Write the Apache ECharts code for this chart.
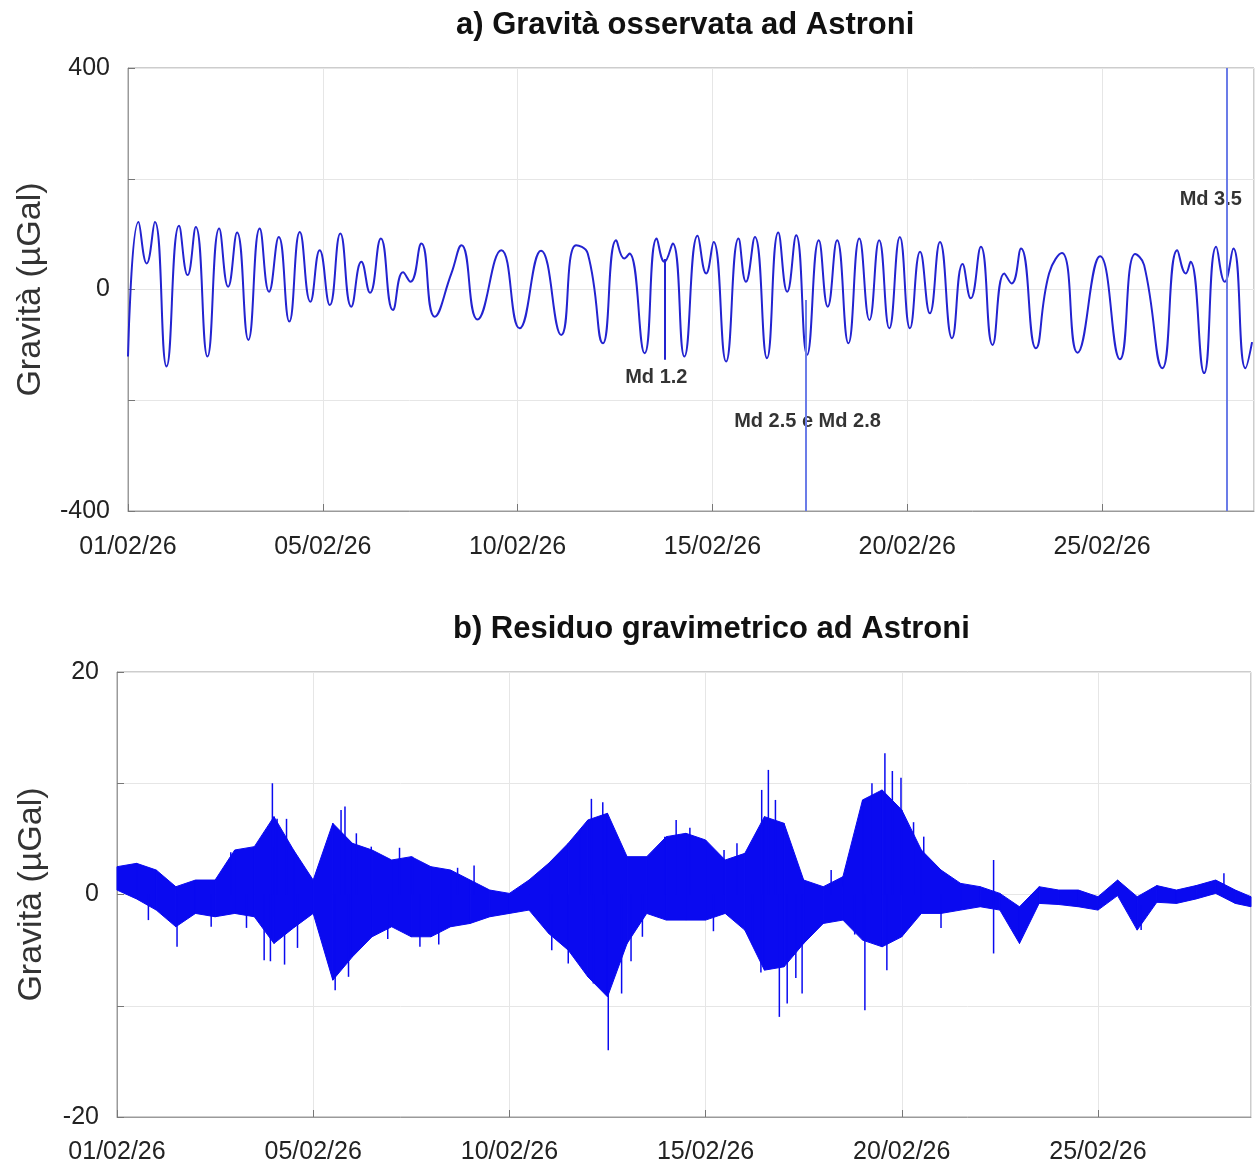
<!DOCTYPE html>
<html>
<head>
<meta charset="utf-8">
<title>Gravità Astroni</title>
<script src="https://cdn.jsdelivr.net/npm/echarts@6/dist/echarts.min.js"></script>
<style>
  body { margin: 0; background: #fff; }
  #chart { width: 1257px; height: 1169px; }
</style>
</head>
<body>
<div id="chart"></div>
<script>
// etichette asse tempo (giorni dall'inizio, una ogni 5)
const tickLabels = ['01/02/26', '05/02/26', '10/02/26', '15/02/26', '20/02/26', '25/02/26'];

// a) gravità osservata: massimi e minimi (giorni, µGal)
const gravTime = [
  0.00, 0.27, 0.48, 0.69, 0.99, 1.31, 1.53, 1.74, 2.04, 2.34, 2.57, 2.80, 3.09, 3.38, 3.62, 3.87,
  4.14, 4.41, 4.68, 4.92, 5.18, 5.45, 5.73, 5.99, 6.21, 6.49, 6.80, 7.06, 7.25, 7.53, 7.87, 8.30,
  8.56, 8.97, 9.58, 10.05, 10.60, 11.12, 11.50, 11.80, 12.19, 12.53, 12.74, 12.87, 13.26, 13.57,
  13.77, 13.98, 14.28, 14.62, 14.84, 15.03, 15.35, 15.67, 15.86, 16.09, 16.40, 16.69, 16.92, 17.15,
  17.43, 17.73, 17.96, 18.20, 18.49, 18.77, 19.03, 19.28, 19.54, 19.81, 20.07, 20.33, 20.58, 20.84,
  21.15, 21.42, 21.63, 21.89, 22.19, 22.49, 22.68, 22.92, 23.30, 23.64, 23.97, 24.37, 24.95, 25.46,
  25.85, 26.08, 26.55, 26.93, 27.15, 27.27, 27.62, 27.93, 28.15, 28.37, 28.68, 28.85
];
const gravValue = [
  -121, 122, 47, 122, -139, 115, 26, 113, -121, 110, 5, 103, -91, 110, -4, 95,
  -58, 104, -22, 71, -28, 101, -31, 50, -6, 92, -37, 31, 14, 83, -49, 29,
  80, -54, 71, -70, 70, -82, 80, 65, -97, 89, 56, 65, -115, 92,
  50, 83, -121, 97, 29, 86, -130, 92, 14, 95, -124, 103, -4, 98,
  -118, 89, -31, 89, -97, 92, -55, 89, -70, 95, -70, 68, -43, 86,
  -88, 46, -16, 77, -100, 29, 11, 74, -106, 29, 66, -114, 60, -126,
  64, 44, -142, 71, 29, 50, -151, 77, 14, 74, -142, -95
];

// eventi sismici (giorno, estremi del picco in µGal)
const eventTime = [13.77, 17.40, 28.20];
const eventTop = [55, -19, 400];
const eventBottom = [-127, -400, -400];
const eventLabel = ['Md 1.2', 'Md 2.5 e Md 2.8', 'Md 3.5'];

// b) residuo gravimetrico: inviluppo superiore e inferiore ogni mezza giornata
const resTime = [
  0, 0.5, 1, 1.5, 2, 2.5, 3, 3.5, 4, 4.5, 5, 5.5, 6, 6.5, 7, 7.5, 8, 8.5, 9, 9.5,
  10, 10.5, 11, 11.5, 12, 12.5, 13, 13.5, 14, 14.5, 15, 15.5, 16, 16.5, 17, 17.5, 18, 18.5, 19, 19.5,
  20, 20.5, 21, 21.5, 22, 22.5, 23, 23.5, 24, 24.5, 25, 25.5, 26, 26.5, 27, 27.5, 28, 28.5, 28.9
];
const resUpper = [
  2.5, 2.8, 2.2, 0.7, 1.3, 1.3, 4.0, 4.3, 7.0, 4.0, 1.3, 6.4, 4.6, 4.0, 3.1, 3.4, 2.5, 2.2, 1.3, 0.4,
  0.1, 1.3, 2.8, 4.6, 6.7, 7.3, 3.4, 3.4, 5.2, 5.5, 4.9, 3.1, 3.7, 7.0, 6.4, 1.3, 0.7, 1.6, 8.5, 9.4,
  7.6, 4.0, 2.2, 1.0, 0.7, 0.1, -1.1, 0.7, 0.4, 0.4, -0.2, 1.3, -0.2, 0.8, 0.4, 0.8, 1.3, 0.4, -0.2
];
const resLower = [
  0.4, -0.4, -1.4, -2.9, -1.7, -2.0, -1.7, -2.0, -4.4, -3.0, -1.7, -7.7, -5.6, -3.8, -2.9, -3.8, -3.8, -2.9, -2.6, -2.0,
  -1.7, -1.4, -3.5, -5.0, -7.4, -9.2, -4.4, -1.7, -2.3, -2.3, -2.3, -1.7, -3.2, -6.8, -6.5, -4.4, -2.6, -2.3, -4.1, -4.7,
  -3.8, -1.7, -1.7, -1.4, -1.1, -1.4, -4.4, -0.8, -0.9, -1.1, -1.4, -0.1, -3.2, -0.7, -0.8, -0.4, 0.1, -0.8, -1.1
];

// picchi isolati del residuo (giorno, minimo, massimo)
const spikeTime = [
  1.53, 2.40, 3.75, 3.96, 3.91, 4.27, 4.08, 4.32, 5.56, 5.81, 5.71, 5.90, 6.48, 7.53, 7.72, 8.68,
  11.08, 12.09, 12.38, 12.52, 12.14, 12.86, 13.96, 14.25, 13.39, 15.47, 16.43, 16.60, 16.78, 16.41,
  16.88, 17.08, 17.46, 19.06, 19.24, 19.57, 19.76, 19.98, 19.62, 20.56, 22.34, 26.10, 28.21,
  0.80, 2.90, 3.30, 4.60, 6.10, 6.90, 7.20, 8.20, 9.10, 11.50, 11.80, 13.10, 14.60, 15.20,
  15.80, 16.20, 17.30, 18.20, 18.80, 20.30, 21.00
];
const spikeLow = [
  -4.7, -2.9, -5.9, 0, -6.0, -6.3, 0, 0, -8.6, 0, 0, -7.4, 0, 0, -4.7, 0,
  -5.0, 0, 0, -14.0, -8.0, -8.9, 0, 0, -3.8, 0, 0, 0, 0, -7.0,
  -11.0, -9.8, -8.9, -10.4, 0, 0, 0, 0, -6.8, 0, -5.3, -3.2, 0.5,
  -2.3, 0, -3.0, -4.8, 0, -4.0, 0, -4.5, 0, -6.2, 0, -6.0, 0, -3.3,
  0, -4.5, -7.5, 0, -3.6, 0, -3.0
];
const spikeHigh = [
  0, 0, 0, 10.0, 0, 0, 6.8, 6.8, 0, 7.9, 7.6, 0, 4.3, 3.4, 0, 2.4,
  0, 8.6, 8.3, 0, 0, 0, 5.2, 6.7, 0, 4.0, 9.4, 11.2, 8.5, 0,
  0, 0, 0, 0, 10.0, 12.7, 11.1, 10.5, 0, 5.2, 3.1, -1.0, 1.9,
  0, 3.8, 0, 0, 5.5, 0, 4.2, 0, 2.6, 0, 5.8, 0, 6.0, 0,
  4.6, 0, 0, 2.2, 0, 6.5, 0
];

const chart = echarts.init(document.getElementById('chart'));

const FONT = 'Liberation Sans, Arial, sans-serif';
const BLUE = '#2323d0';
const RES_BLUE = '#0a0af0';

function xAxisFor(gridIndex, margin) {
  return {
    gridIndex: gridIndex,
    type: 'value',
    min: 0,
    max: 28.9,
    interval: 5,
    axisLine: { onZero: false, lineStyle: { color: '#9a9a9a' } },
    axisTick: { inside: true, length: 7, lineStyle: { color: '#777' } },
    splitLine: { lineStyle: { color: '#e6e6e6' } },
    axisLabel: {
      fontFamily: FONT, fontSize: 25, color: '#222', margin: margin, showMaxLabel: false,
      formatter: v => (v % 5 === 0 ? tickLabels[v / 5] : '')
    }
  };
}

function yAxisFor(gridIndex, lim, gap) {
  return {
    gridIndex: gridIndex,
    type: 'value',
    min: -lim,
    max: lim,
    interval: lim / 2,
    name: 'Gravità (µGal)',
    nameLocation: 'middle',
    nameGap: gap,
    nameTextStyle: { fontFamily: FONT, fontSize: 34, color: '#333' },
    axisLine: { show: true, onZero: false, lineStyle: { color: '#9a9a9a' } },
    axisTick: { show: true, inside: true, length: 7, lineStyle: { color: '#777' } },
    splitLine: { lineStyle: { color: '#e6e6e6' } },
    axisLabel: {
      fontFamily: FONT, fontSize: 25, color: '#222', margin: 18,
      formatter: v => (v % lim === 0 ? String(v) : '')
    }
  };
}

// banda del residuo: un trapezio per ogni intervallo tra due campioni
const bandData = [];
for (let i = 0; i < resTime.length - 1; i++) {
  bandData.push([resTime[i], resUpper[i], resLower[i], resTime[i + 1], resUpper[i + 1], resLower[i + 1]]);
}

const option = {
  animation: false,
  backgroundColor: '#fff',
  title: [
    {
      text: 'a) Gravità osservata ad Astroni',
      left: 456, top: 10, padding: 0,
      textStyle: { fontFamily: FONT, fontSize: 31, fontWeight: 'bold', color: '#111' }
    },
    {
      text: 'b) Residuo gravimetrico ad Astroni',
      left: 453, top: 614, padding: 0,
      textStyle: { fontFamily: FONT, fontSize: 31, fontWeight: 'bold', color: '#111' }
    }
  ],
  grid: [
    { left: 128, right: 3, top: 68, bottom: 658, show: true, borderColor: '#9a9a9a', borderWidth: 1 },
    { left: 117, right: 6, top: 672, bottom: 52, show: true, borderColor: '#9a9a9a', borderWidth: 1 }
  ],
  xAxis: [xAxisFor(0, 24), xAxisFor(1, 23)],
  yAxis: [yAxisFor(0, 400, 80), yAxisFor(1, 20, 68)],
  series: [
    {
      name: 'gravità',
      type: 'line',
      xAxisIndex: 0, yAxisIndex: 0,
      data: gravTime.map((t, i) => [t, gravValue[i]]),
      smooth: 0.5,
      showSymbol: false,
      lineStyle: { color: BLUE, width: 2 },
      markLine: {
        silent: true,
        symbol: ['none', 'none'],
        label: { show: false },
        data: eventTime.map((t, i) => [
          { coord: [t, eventTop[i]], lineStyle: { color: i === 0 ? BLUE : '#6b7ce8', width: 2, type: 'solid' } },
          { coord: [t, eventBottom[i]] }
        ])
      }
    },
    {
      // etichette degli eventi
      name: 'eventi',
      type: 'scatter',
      xAxisIndex: 0, yAxisIndex: 0,
      symbolSize: 1,
      itemStyle: { color: 'transparent' },
      data: [
        { value: [13.56, -158], name: eventLabel[0] },
        { value: [17.44, -239], name: eventLabel[1] },
        { value: [27.79, 163], name: eventLabel[2] }
      ],
      label: {
        show: true, position: 'inside', formatter: p => p.name,
        fontFamily: FONT, fontSize: 20, fontWeight: 'bold', color: '#000'
      }
    },
    {
      name: 'banda',
      type: 'custom',
      xAxisIndex: 1, yAxisIndex: 1,
      encode: { x: [0, 3], y: [1, 2, 4, 5] },
      data: bandData,
      renderItem: (params, api) => {
        const p1 = api.coord([api.value(0), api.value(1)]);
        const p2 = api.coord([api.value(3), api.value(4)]);
        const p3 = api.coord([api.value(3), api.value(5)]);
        const p4 = api.coord([api.value(0), api.value(2)]);
        return {
          type: 'polygon',
          shape: { points: [p1, p2, p3, p4] },
          style: { fill: RES_BLUE, stroke: RES_BLUE, lineWidth: 1 }
        };
      }
    },
    {
      name: 'picchi',
      type: 'custom',
      xAxisIndex: 1, yAxisIndex: 1,
      encode: { x: 0, y: [1, 2] },
      data: spikeTime.map((t, i) => [t, spikeLow[i], spikeHigh[i]]),
      renderItem: (params, api) => {
        const a = api.coord([api.value(0), api.value(1)]);
        const b = api.coord([api.value(0), api.value(2)]);
        return {
          type: 'line',
          shape: { x1: a[0], y1: a[1], x2: b[0], y2: b[1] },
          style: { stroke: RES_BLUE, lineWidth: 1.5 }
        };
      }
    }
  ]
};

chart.setOption(option);
</script>
</body>
</html>
